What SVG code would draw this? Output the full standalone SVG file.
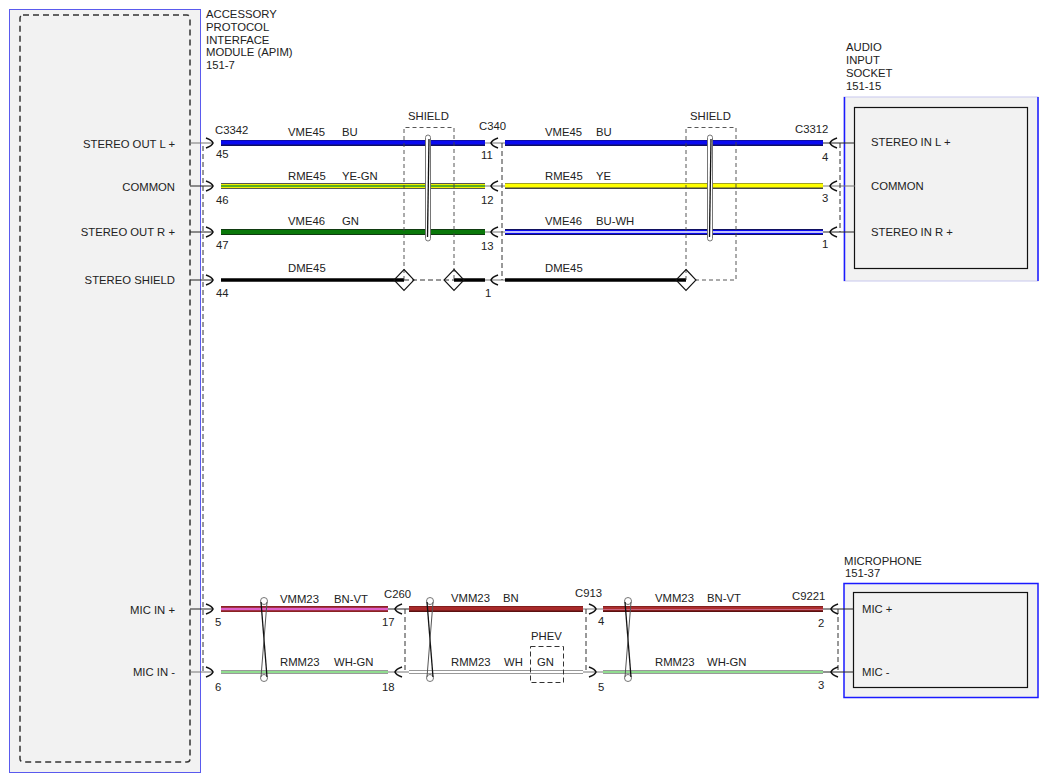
<svg xmlns="http://www.w3.org/2000/svg" width="1048" height="782" viewBox="0 0 1048 782">
<style>
text{font-family:"Liberation Sans",Arial,sans-serif;font-size:11.3px;fill:#222}
.r{text-anchor:end}
.dash{fill:none;stroke:#333;stroke-width:1;stroke-dasharray:5,3}
.sh{fill:none;stroke:#444;stroke-width:0.9;stroke-dasharray:4,3}
.arr{fill:none;stroke:#111;stroke-width:1.6}
.stub{stroke:#222;stroke-width:1}
.stubg{stroke:#777;stroke-width:1}
.o6{stroke-width:6}
.i4{stroke-width:4.2}
.c1{stroke-width:1.3}
.tw{fill:#fff;stroke:#666;stroke-width:0.9}
.twl{stroke:#111;stroke-width:1.3;fill:none}
.dia{fill:none;stroke:#111;stroke-width:1.1}
</style>

<g id="apim">
<rect x="9.5" y="9.5" width="191" height="763" fill="#f2f2f2" stroke="#5a5aee" stroke-width="1"/>
<rect x="20" y="15" width="170" height="747" rx="3" fill="none" stroke="#333" stroke-width="1.5" stroke-dasharray="6,4"/>
<text x="206" y="18">ACCESSORY</text>
<text x="206" y="31">PROTOCOL</text>
<text x="206" y="44">INTERFACE</text>
<text x="206" y="56">MODULE (APIM)</text>
<text x="206" y="69">151-7</text>
<text class="r" x="175" y="148">STEREO OUT L +</text>
<text class="r" x="175" y="191">COMMON</text>
<text class="r" x="175" y="236">STEREO OUT R +</text>
<text class="r" x="175" y="284">STEREO SHIELD</text>
<text class="r" x="175" y="614">MIC IN +</text>
<text class="r" x="175" y="676">MIC IN -</text>
</g>

<g id="audio-input-socket">
<rect x="844" y="97" width="194" height="184" fill="#f2f2f2" stroke="#c8c8ee" stroke-width="1"/>
<line x1="844.5" y1="97" x2="844.5" y2="281" stroke="#1a1aff" stroke-width="1.5"/>
<line x1="1038" y1="97" x2="1038" y2="281" stroke="#1a1aff" stroke-width="1.5"/>
<rect x="854.5" y="107.5" width="173" height="161" fill="#f2f2f2" stroke="#111" stroke-width="1.2"/>
<text x="846" y="51">AUDIO</text>
<text x="846" y="64">INPUT</text>
<text x="846" y="77">SOCKET</text>
<text x="846" y="90">151-15</text>
<text x="871" y="146">STEREO IN L +</text>
<text x="871" y="190">COMMON</text>
<text x="871" y="236">STEREO IN R +</text>
</g>

<g id="microphone">
<rect x="844" y="583.5" width="194" height="114" fill="#f2f2f2" stroke="#1a1aff" stroke-width="1.5"/>
<rect x="853.5" y="592.5" width="174" height="95" fill="#f2f2f2" stroke="#111" stroke-width="1.2"/>
<text x="844" y="565">MICROPHONE</text>
<text x="845" y="577">151-37</text>
<text x="862" y="613">MIC +</text>
<text x="862" y="676">MIC -</text>
</g>

<g id="connectors">
<line class="stubg" x1="190" y1="143" x2="213" y2="143"/>
<line class="stub" x1="190" y1="186" x2="213" y2="186"/>
<line class="stub" x1="190" y1="232" x2="213" y2="232"/>
<line class="stub" x1="190" y1="280" x2="213" y2="280"/>
<line class="stub" x1="190" y1="609" x2="213" y2="609"/>
<line class="stubg" x1="190" y1="672" x2="213" y2="672"/>
<line class="stubg" x1="485" y1="143" x2="505" y2="143"/>
<line class="stubg" x1="485" y1="186" x2="505" y2="186"/>
<line class="stubg" x1="485" y1="232" x2="505" y2="232"/>
<line class="stubg" x1="485" y1="280" x2="505" y2="280"/>
<line class="stub" x1="823" y1="143" x2="855" y2="143"/>
<line class="stubg" x1="823" y1="186" x2="855" y2="186"/>
<line class="stub" x1="823" y1="232" x2="855" y2="232"/>
<line class="stub" x1="388" y1="609" x2="409" y2="609"/>
<line class="stubg" x1="388" y1="672" x2="409" y2="672"/>
<line class="stubg" x1="583" y1="609" x2="603" y2="609"/>
<line class="stubg" x1="583" y1="672" x2="603" y2="672"/>
<line class="stub" x1="823" y1="609" x2="854" y2="609"/>
<line class="stub" x1="823" y1="672" x2="854" y2="672"/>

<line x1="221" y1="143" x2="485" y2="143" stroke="#101060" class="o6"/>
<line x1="221" y1="142.5" x2="485" y2="142.5" stroke="#0a0af0" class="i4"/>
<line x1="505" y1="143" x2="823" y2="143" stroke="#101060" class="o6"/>
<line x1="505" y1="142.5" x2="823" y2="142.5" stroke="#0a0af0" class="i4"/>
<line x1="221" y1="186" x2="485" y2="186" stroke="#555" class="o6"/>
<line x1="221" y1="186" x2="485" y2="186" stroke="#f0f000" class="i4"/>
<line x1="221" y1="186" x2="485" y2="186" stroke="#2a9a2a" class="c1"/>
<line x1="505" y1="186" x2="823" y2="186" stroke="#444" class="o6"/>
<line x1="505" y1="185.5" x2="823" y2="185.5" stroke="#ffff00" class="i4"/>
<line x1="221" y1="232" x2="485" y2="232" stroke="#103a10" class="o6"/>
<line x1="221" y1="232" x2="485" y2="232" stroke="#0a780a" class="i4"/>
<line x1="505" y1="232" x2="823" y2="232" stroke="#101060" class="o6"/>
<line x1="505" y1="232" x2="823" y2="232" stroke="#0a0af0" class="i4"/>
<line x1="505" y1="232" x2="823" y2="232" stroke="#ffffff" class="c1"/>
<line x1="221" y1="280" x2="404" y2="280" stroke="#000" stroke-width="3.5"/>
<line x1="404" y1="280" x2="454" y2="280" class="dash"/>
<line x1="454" y1="280" x2="485" y2="280" stroke="#000" stroke-width="3.5"/>
<line x1="505" y1="280" x2="686" y2="280" stroke="#000" stroke-width="3.5"/>

<line x1="221" y1="609" x2="388" y2="609" stroke="#8b2222" class="o6"/>
<line x1="221" y1="609" x2="388" y2="609" stroke="#e060c8" stroke-width="2.6"/>
<line x1="409" y1="609" x2="583" y2="609" stroke="#5a1010" class="o6"/>
<line x1="409" y1="608.5" x2="583" y2="608.5" stroke="#a82a2a" class="i4"/>
<line x1="603" y1="609" x2="823" y2="609" stroke="#5a1010" class="o6"/>
<line x1="603" y1="608.5" x2="823" y2="608.5" stroke="#ac2e2e" class="i4"/>
<line x1="603" y1="609.5" x2="823" y2="609.5" stroke="#d07090" stroke-width="0.8"/>
<line x1="221" y1="672" x2="388" y2="672" stroke="#999" stroke-width="4.2"/>
<line x1="221" y1="672" x2="388" y2="672" stroke="#90dc90" stroke-width="2.2"/>
<line x1="409" y1="672" x2="583" y2="672" stroke="#999" stroke-width="4.2"/>
<line x1="409" y1="672" x2="583" y2="672" stroke="#ffffff" stroke-width="2.2"/>
<line x1="603" y1="672" x2="823" y2="672" stroke="#999" stroke-width="4.2"/>
<line x1="603" y1="672" x2="823" y2="672" stroke="#90dc90" stroke-width="2.2"/>

<text x="288" y="136">VME45</text><text x="342" y="136">BU</text>
<text x="288" y="180">RME45</text><text x="342" y="180">YE-GN</text>
<text x="288" y="225">VME46</text><text x="342" y="225">GN</text>
<text x="288" y="272">DME45</text>
<text x="545" y="136">VME45</text><text x="596" y="136">BU</text>
<text x="545" y="180">RME45</text><text x="596" y="180">YE</text>
<text x="545" y="225">VME46</text><text x="596" y="225">BU-WH</text>
<text x="545" y="272">DME45</text>
<text x="280" y="603">VMM23</text><text x="334" y="603">BN-VT</text>
<text x="280" y="666">RMM23</text><text x="334" y="666">WH-GN</text>
<text x="451" y="602">VMM23</text><text x="503" y="602">BN</text>
<text x="451" y="666">RMM23</text><text x="504" y="666">WH</text>
<text x="655" y="602">VMM23</text><text x="707" y="602">BN-VT</text>
<text x="655" y="666">RMM23</text><text x="707" y="666">WH-GN</text>
</g>

<g id="c3342">
<line class="dash" stroke="#555" x1="203" y1="146" x2="203" y2="672"/>
<path class="arr" d="M206,138 Q212,140 213,143 Q212,146 206,148"/>
<path class="arr" d="M206,181 Q212,183 213,186 Q212,189 206,191"/>
<path class="arr" d="M206,227 Q212,229 213,232 Q212,235 206,237"/>
<path class="arr" d="M206,275 Q212,277 213,280 Q212,283 206,285"/>
<path class="arr" d="M206,604 Q212,606 213,609 Q212,612 206,614"/>
<path class="arr" d="M206,667 Q212,669 213,672 Q212,675 206,677"/>
<text x="215" y="134">C3342</text>
<text x="216" y="158">45</text>
<text x="216" y="204">46</text>
<text x="216" y="249">47</text>
<text x="216" y="297">44</text>
<text x="215" y="626">5</text>
<text x="215" y="691">6</text>
</g>

<g id="c340">
<line class="dash" x1="502" y1="143" x2="502" y2="280"/>
<path class="arr" d="M498,138 Q492,140 491,143 Q492,146 498,148"/>
<path class="arr" d="M498,181 Q492,183 491,186 Q492,189 498,191"/>
<path class="arr" d="M498,227 Q492,229 491,232 Q492,235 498,237"/>
<path class="arr" d="M498,275 Q492,277 491,280 Q492,283 498,285"/>
<text x="479" y="130">C340</text>
<text x="481" y="159">11</text>
<text x="481" y="204">12</text>
<text x="481" y="250">13</text>
<text x="485" y="297">1</text>
</g>

<g id="c3312">
<line class="dash" x1="840" y1="143" x2="840" y2="232"/>
<path class="arr" d="M837,138 Q831,140 830,143 Q831,146 837,148"/>
<path class="arr" d="M837,181 Q831,183 830,186 Q831,189 837,191"/>
<path class="arr" d="M837,227 Q831,229 830,232 Q831,235 837,237"/>
<text x="795" y="133">C3312</text>
<text x="822" y="161">4</text>
<text x="822" y="202">3</text>
<text x="822" y="248">1</text>
</g>

<g id="c260">
<line class="dash" x1="405" y1="609" x2="405" y2="672"/>
<path class="arr" d="M402,604 Q396,606 395,609 Q396,612 402,614"/>
<path class="arr" d="M402,667 Q396,669 395,672 Q396,675 402,677"/>
<text x="384" y="598">C260</text>
<text x="382" y="626">17</text>
<text x="382" y="691">18</text>
</g>

<g id="c913">
<line class="dash" x1="586" y1="609" x2="586" y2="672"/>
<path class="arr" d="M589,604 Q595,606 596,609 Q595,612 589,614"/>
<path class="arr" d="M589,667 Q595,669 596,672 Q595,675 589,677"/>
<text x="575" y="597">C913</text>
<text x="598" y="625">4</text>
<text x="598" y="691">5</text>
</g>

<g id="c9221">
<line class="dash" x1="838" y1="609" x2="838" y2="672"/>
<path class="arr" d="M838,604 Q832,606 831,609 Q832,612 838,614"/>
<path class="arr" d="M838,667 Q832,669 831,672 Q832,675 838,677"/>
<text x="792" y="600">C9221</text>
<text x="818" y="627">2</text>
<text x="818" y="689">3</text>
</g>

<g id="shield-1">
<path class="sh" d="M404,280 V127.5 H454 V280"/>
<path class="dia" d="M404,269.5 L414,280 L404,290.5 L394,280 Z"/>
<path class="dia" d="M454,269.5 L464,280 L454,290.5 L444,280 Z"/>
<text x="408" y="120">SHIELD</text>
<rect class="tw" x="425.5" y="135" width="5" height="106" rx="2.5"/>
<line class="twl" x1="429" y1="139" x2="427.5" y2="237"/>
</g>

<g id="shield-2">
<path class="sh" d="M686,280 V127.5 H736 V280 H696"/>
<path class="dia" d="M686,269.5 L696,280 L686,290.5 L676,280 Z"/>
<text x="690" y="120">SHIELD</text>
<rect class="tw" x="707.5" y="135" width="5" height="106" rx="2.5"/>
<line class="twl" x1="711" y1="139" x2="709.5" y2="237"/>
</g>

<g id="phev">
<rect class="dash" x="530.5" y="646.5" width="33" height="36"/>
<text x="531" y="640">PHEV</text>
<text x="537" y="666">GN</text>
</g>

<g id="twist-1">
<circle cx="264" cy="601" r="3.5" class="tw"/>
<circle cx="264" cy="678" r="3.5" class="tw"/>
<line class="twl" x1="261" y1="602" x2="267" y2="677"/>
<line stroke="#555" stroke-width="1" x1="267" y1="602" x2="261" y2="677"/>
</g>
<g id="twist-2">
<circle cx="430" cy="601" r="3.5" class="tw"/>
<circle cx="430" cy="678" r="3.5" class="tw"/>
<line class="twl" x1="427" y1="602" x2="433" y2="677"/>
<line stroke="#555" stroke-width="1" x1="433" y1="602" x2="427" y2="677"/>
</g>
<g id="twist-3">
<circle cx="628" cy="601" r="3.5" class="tw"/>
<circle cx="628" cy="678" r="3.5" class="tw"/>
<line class="twl" x1="625" y1="602" x2="631" y2="677"/>
<line stroke="#555" stroke-width="1" x1="631" y1="602" x2="625" y2="677"/>
</g>
</svg>
